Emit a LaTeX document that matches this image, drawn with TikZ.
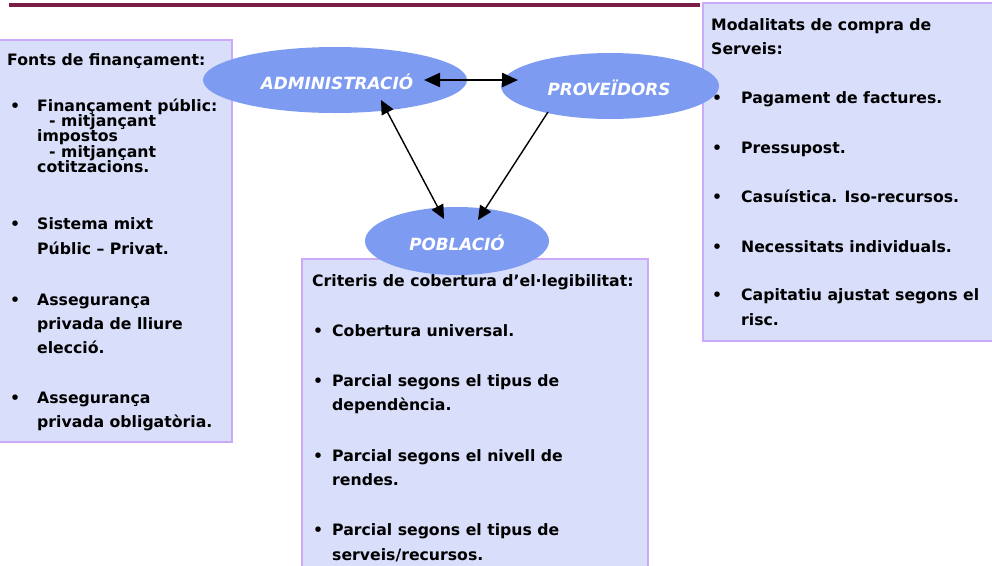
\documentclass[tikz,border=0pt]{standalone}
\usepackage{fontspec}
\setmainfont{DejaVu Sans}
\usetikzlibrary{arrows.meta,shapes.geometric}
\definecolor{boxfill}{RGB}{217,223,250}
\definecolor{boxline}{RGB}{204,170,250}
\definecolor{ellfill}{RGB}{126,155,242}
\definecolor{rulecol}{RGB}{122,30,72}
\begin{document}
\begin{tikzpicture}[x=1pt,y=-1pt,
  infobox/.style={fill=boxfill,draw=boxline,line width=1.5pt,inner sep=0pt,anchor=north west},
  ell/.style={ellipse,fill=ellfill,draw=none,inner sep=0pt},
  elltext/.style={text=white,font=\fontsize{16.8}{19}\selectfont\bfseries\itshape,inner sep=0pt,anchor=base},
  txt/.style={anchor=base west,inner sep=0pt,font=\fontsize{15.7}{18}\selectfont\bfseries},
  hlink/.style={line width=2.4pt,{Triangle[length=16pt,width=14pt]}-{Triangle[length=16pt,width=14pt]}},
  dlink/.style={line width=1.4pt,{Triangle[length=14pt,width=13pt]}-{Triangle[length=14pt,width=13pt]}},
  olink/.style={line width=1.4pt,-{Triangle[length=14pt,width=13pt]}},
]
\useasboundingbox (0,0) rectangle (992,565);
% top rule
\coordinate (ruleL) at (9,5);
\coordinate (ruleR) at (700,5);
\draw[rulecol,line width=3.2pt] (ruleL) -- (ruleR);
% boxes
\node[infobox,minimum width=234pt,minimum height=402pt] (fonts) at (-3,39) {};
\node[infobox,minimum width=295pt,minimum height=338pt] (modal) at (702,2) {};
\node[infobox,minimum width=346pt,minimum height=320pt] (crit) at (301,258) {};
% ellipses
\node[ell,minimum width=264pt,minimum height=66pt] (admin) at (335,80) {};
\node[ell,minimum width=218pt,minimum height=66pt] (prov) at (610,86) {};
\node[ell,minimum width=184pt,minimum height=68pt] (pob) at (457,241) {};
\node[elltext] (adminT) at (337,89) {ADMINISTRACIÓ};
\node[elltext] (provT) at (609,95) {PROVEÏDORS};
\node[elltext] (pobT) at (457,250) {POBLACIÓ};
% connectors
\coordinate (adminR) at (424,80);
\coordinate (provL) at (518,80);
\coordinate (adminB) at (381,100);
\coordinate (pobL) at (444,219);
\coordinate (provB) at (548,112);
\coordinate (pobR) at (478,220);
\draw[hlink] (adminR) -- (provL);
\draw[dlink] (adminB) -- (pobL);
\draw[olink] (provB) -- (pobR);
% left box text
\node[txt] (l0) at (7,65) {Fonts de finançament:};
\node[txt] (lb1) at (10,111) {•};
\node[txt] (l1) at (37,111) {Finançament públic:};
\node[txt] (l2) at (49,126) {- mitjançant};
\node[txt] (l3) at (37,141) {impostos};
\node[txt] (l4) at (49,157) {- mitjançant};
\node[txt] (l5) at (37,172) {cotitzacions.};
\node[txt] (lb2) at (10,229) {•};
\node[txt] (l6) at (37,229) {Sistema mixt};
\node[txt] (l7) at (37,254) {Públic – Privat.};
\node[txt] (lb3) at (10,305) {•};
\node[txt] (l8) at (37,305) {Assegurança};
\node[txt] (l9) at (37,329) {privada de lliure};
\node[txt] (l10) at (37,353) {elecció.};
\node[txt] (lb4) at (10,403) {•};
\node[txt] (l11) at (37,403) {Assegurança};
\node[txt] (l12) at (37,427) {privada obligatòria.};
% right box text
\node[txt] (r0) at (711,30) {Modalitats de compra de};
\node[txt] (r1) at (711,54) {Serveis:};
\node[txt] (rb1) at (712,103) {•};
\node[txt] (r2) at (741,103) {Pagament de factures.};
\node[txt] (rb2) at (712,153) {•};
\node[txt] (r3) at (741,153) {Pressupost.};
\node[txt] (rb3) at (712,202) {•};
\node[txt] (r4) at (741,202) {Casuística. Iso-recursos.};
\node[txt] (rb4) at (712,252) {•};
\node[txt] (r5) at (741,252) {Necessitats individuals.};
\node[txt] (rb5) at (712,300) {•};
\node[txt] (r6) at (741,300) {Capitatiu ajustat segons el};
\node[txt] (r7) at (741,325) {risc.};
% middle box text
\node[txt] (m0) at (312,286) {Criteris de cobertura d’el·legibilitat:};
\node[txt] (mb1) at (313,336) {•};
\node[txt] (m1) at (332,336) {Cobertura universal.};
\node[txt] (mb2) at (313,386) {•};
\node[txt] (m2) at (332,386) {Parcial segons el tipus de};
\node[txt] (m3) at (332,410) {dependència.};
\node[txt] (mb3) at (313,461) {•};
\node[txt] (m4) at (332,461) {Parcial segons el nivell de};
\node[txt] (m5) at (332,485) {rendes.};
\node[txt] (mb4) at (313,535) {•};
\node[txt] (m6) at (332,535) {Parcial segons el tipus de};
\node[txt] (m7) at (332,560) {serveis/recursos.};
\end{tikzpicture}
\end{document}
